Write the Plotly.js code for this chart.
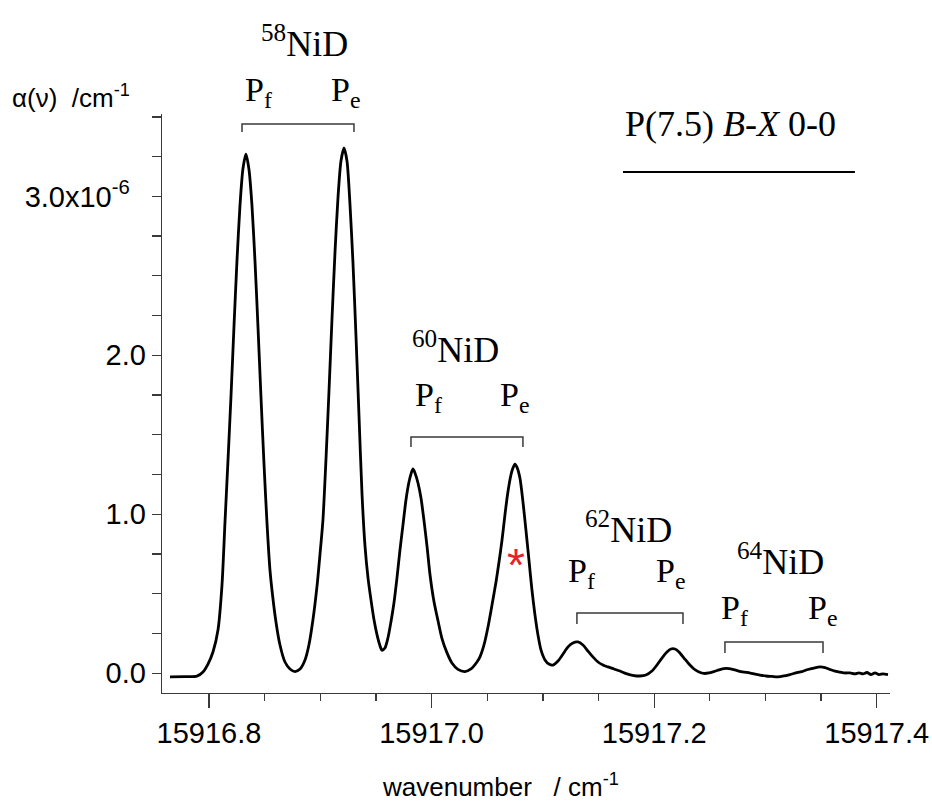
<!DOCTYPE html>
<html>
<head>
<meta charset="utf-8">
<script src="https://cdn.plot.ly/plotly-3.0.1.min.js"></script>
<style>html,body{margin:0;padding:0;background:#fff;}#chart{width:932px;height:801px;}</style>
</head>
<body>
<div id="chart"></div>
<script>
// wavenumber / cm^-1
const wavenumber = [
15916.7650,15916.7784,15916.7892,15916.7946,15916.7991,15916.8036,15916.8081,15916.8117,15916.8144,15916.8171,
15916.8198,15916.8225,15916.8252,15916.8279,15916.8305,15916.8332,15916.8359,15916.8386,15916.8413,15916.8440,
15916.8467,15916.8494,15916.8521,15916.8548,15916.8566,15916.8602,15916.8638,15916.8683,15916.8728,15916.8773,
15916.8818,15916.8863,15916.8898,15916.8934,15916.8970,15916.8997,15916.9024,15916.9051,15916.9078,15916.9105,
15916.9132,15916.9159,15916.9186,15916.9213,15916.9240,15916.9267,15916.9294,15916.9321,15916.9348,15916.9375,
15916.9402,15916.9429,15916.9456,15916.9482,15916.9509,15916.9536,15916.9554,15916.9581,15916.9608,15916.9635,
15916.9662,15916.9689,15916.9716,15916.9743,15916.9770,15916.9797,15916.9815,15916.9833,15916.9851,15916.9878,
15916.9905,15916.9932,15916.9959,15916.9986,15917.0022,15917.0058,15917.0093,15917.0138,15917.0183,15917.0237,
15917.0300,15917.0354,15917.0408,15917.0435,15917.0471,15917.0507,15917.0543,15917.0579,15917.0606,15917.0633,
15917.0659,15917.0686,15917.0713,15917.0731,15917.0749,15917.0767,15917.0794,15917.0821,15917.0848,15917.0875,
15917.0902,15917.0929,15917.0956,15917.0983,15917.1019,15917.1055,15917.1091,15917.1136,15917.1181,15917.1226,
15917.1270,15917.1315,15917.1360,15917.1405,15917.1450,15917.1495,15917.1540,15917.1585,15917.1639,15917.1693,
15917.1756,15917.1818,15917.1872,15917.1926,15917.1980,15917.2025,15917.2070,15917.2115,15917.2151,15917.2187,
15917.2223,15917.2268,15917.2313,15917.2358,15917.2403,15917.2447,15917.2492,15917.2537,15917.2582,15917.2627,
15917.2672,15917.2726,15917.2780,15917.2834,15917.2897,15917.2951,15917.3005,15917.3058,15917.3112,15917.3166,
15917.3220,15917.3274,15917.3328,15917.3382,15917.3436,15917.3490,15917.3535,15917.3580,15917.3624,15917.3669,
15917.3714,15917.3759,15917.3804,15917.3840,15917.3876,15917.3912,15917.3948,15917.3984,15917.4020,15917.4056,
15917.4101
];
// absorption coefficient alpha(nu), in units of 1e-6 cm^-1
const alpha = [
-0.022,-0.021,-0.018,0.008,0.058,0.134,0.272,0.555,0.951,1.341,
1.744,2.185,2.600,2.946,3.172,3.266,3.172,2.946,2.600,2.185,
1.744,1.323,0.951,0.650,0.524,0.323,0.178,0.071,0.027,0.011,
0.027,0.084,0.178,0.335,0.543,0.744,0.964,1.341,1.769,2.222,
2.643,2.989,3.222,3.304,3.222,2.950,2.580,2.120,1.620,1.130,
0.800,0.600,0.460,0.340,0.245,0.175,0.145,0.159,0.222,0.323,
0.442,0.599,0.775,0.932,1.090,1.203,1.253,1.285,1.260,1.197,
1.102,0.960,0.800,0.620,0.450,0.330,0.220,0.130,0.065,0.025,
0.011,0.027,0.071,0.103,0.178,0.291,0.430,0.574,0.700,0.838,
0.995,1.140,1.247,1.291,1.316,1.297,1.228,1.080,0.901,0.713,
0.524,0.367,0.241,0.147,0.084,0.058,0.052,0.077,0.121,0.166,
0.191,0.197,0.178,0.140,0.103,0.071,0.052,0.040,0.027,0.014,
-0.004,-0.014,-0.017,-0.011,0.014,0.052,0.096,0.134,0.153,0.153,
0.134,0.096,0.058,0.027,0.008,-0.001,0.002,0.011,0.021,0.030,
0.030,0.021,0.011,0.005,-0.004,-0.011,-0.017,-0.020,-0.023,-0.017,
-0.008,0.002,0.011,0.024,0.033,0.040,0.036,0.024,0.014,0.008,
0.002,0.002,-0.004,0.002,-0.004,0.005,-0.008,0.002,-0.008,-0.004,
-0.008
];
const xTickVals = [15916.8, 15917.0, 15917.2, 15917.4];
const xTickText = ['15916.8', '15917.0', '15917.2', '15917.4'];
const yTickVals = [0, 1, 2, 3];
const yTickText = ['0.0', '1.0', '2.0', '3.0x10<sup>-6</sup>\u00a0\u00a0'];

const axisColor = '#3a3a3a';
const serif = 'Liberation Serif, Times New Roman, serif';
const sans = 'Liberation Sans, Arial, sans-serif';

function bracket(x0, x1, y0, y1, ref) {
  return {type: 'path', xref: ref || 'x', yref: ref || 'y',
    path: `M ${x0},${y1} L ${x0},${y0} L ${x1},${y0} L ${x1},${y1}`,
    line: {color: axisColor, width: 1.5}};
}
function lab(text, x, y, size, ref) {
  return {text: text, x: x, y: y, xref: ref || 'x', yref: ref || 'y', showarrow: false,
    xanchor: 'center', yanchor: 'middle', font: {family: serif, size: size, color: '#000'}};
}

const trace = {
  x: wavenumber, y: alpha, type: 'scatter', mode: 'lines',
  line: {color: '#000', width: 2.8, shape: 'spline', smoothing: 0.7},
  hoverinfo: 'skip', cliponaxis: false
};

const layout = {
  width: 932, height: 801,
  margin: {l: 162, r: 42, t: 114, b: 108},
  paper_bgcolor: '#fff', plot_bgcolor: '#fff',
  showlegend: false,
  font: {family: sans, color: '#000'},
  xaxis: {
    range: [15916.7578, 15917.4119],
    tickmode: 'array', tickvals: xTickVals, ticktext: xTickText,
    ticks: 'outside', ticklen: 14, tickwidth: 1.3, tickcolor: axisColor,
    minor: {tickmode: 'linear', tick0: 15916.8, dtick: 0.05, ticks: 'outside', ticklen: 7, tickwidth: 1.3, tickcolor: axisColor},
    showline: true, linecolor: axisColor, linewidth: 1.3,
    showgrid: false, zeroline: false,
    tickfont: {family: sans, size: 29, color: '#000'}
  },
  yaxis: {
    range: [-0.124, 3.518],
    tickmode: 'array', tickvals: yTickVals, ticktext: yTickText,
    ticks: 'outside', ticklen: 9, tickwidth: 1.3, tickcolor: axisColor,
    minor: {tickmode: 'linear', tick0: 0, dtick: 0.25, ticks: 'outside', ticklen: 9, tickwidth: 1.3, tickcolor: axisColor},
    showline: true, linecolor: axisColor, linewidth: 1.3,
    showgrid: false, zeroline: false,
    tickfont: {family: sans, size: 29, color: '#000'}
  },
  shapes: [
    bracket(0.1099, 0.2637, 0.9827, 0.9689, 'paper'),
    bracket(15916.9815, 15917.0821, 1.486, 1.423),
    bracket(15917.1306, 15917.2259, 0.379, 0.310),
    bracket(15917.2636, 15917.3517, 0.197, 0.128),
    {type: 'line', xref: 'x', yref: 'y', x0: 15917.1720, x1: 15917.3804, y0: 3.153, y1: 3.153,
      line: {color: '#000', width: 2}}
  ],
  annotations: [
    lab('<sup>58</sup>NiD', 0.1964, 1.1244, 36, 'paper'),
    lab('P<sub>f</sub>', 0.1332, 1.0380, 34, 'paper'),
    lab('P<sub>e</sub>', 0.2527, 1.0380, 34, 'paper'),
    lab('<sup>60</sup>NiD', 15917.0219, 2.052, 36),
    lab('P<sub>f</sub>', 15916.9968, 1.738, 34),
    lab('P<sub>e</sub>', 15917.0749, 1.738, 34),
    lab('<sup>62</sup>NiD', 15917.1765, 0.914, 36),
    lab('P<sub>f</sub>', 15917.1351, 0.631, 34),
    lab('P<sub>e</sub>', 15917.2151, 0.631, 34),
    lab('<sup>64</sup>NiD', 15917.3139, 0.713, 36),
    lab('P<sub>f</sub>', 15917.2726, 0.398, 34),
    lab('P<sub>e</sub>', 15917.3508, 0.398, 34),
    lab('P(7.5) <i>B</i>-<i>X</i> 0-0', 15917.2690, 3.455, 36),
    {text: '*', x: 15917.0758, y: 0.680, xref: 'x', yref: 'y', showarrow: false,
      xanchor: 'center', yanchor: 'middle', font: {family: sans, size: 46, color: '#e8202a'}},
    {text: '\u03b1(\u03bd)\u00a0\u00a0/cm<sup>-1</sup>', x: -0.2088, y: 1.031, xref: 'paper', yref: 'paper',
      showarrow: false, xanchor: 'left', yanchor: 'middle', font: {family: sans, size: 26, color: '#000'}},
    {text: 'wavenumber\u00a0\u00a0\u00a0/ cm<sup>-1</sup>', x: 0.2995, y: -0.1589, xref: 'paper', yref: 'paper',
      showarrow: false, xanchor: 'left', yanchor: 'middle', font: {family: sans, size: 26, color: '#000'}}
  ]
};

Plotly.newPlot('chart', [trace], layout, {staticPlot: true, displayModeBar: false});
</script>
</body>
</html>
